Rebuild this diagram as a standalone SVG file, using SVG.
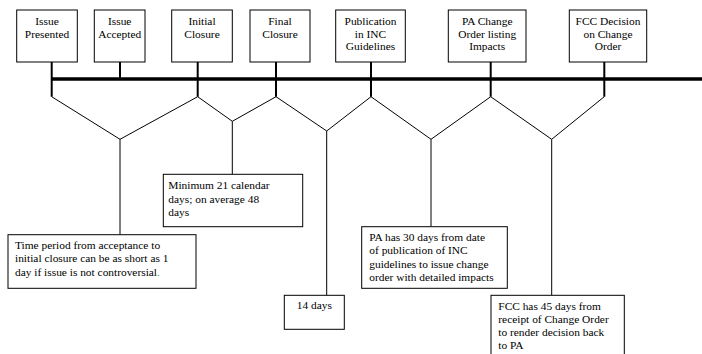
<svg xmlns="http://www.w3.org/2000/svg" width="702" height="354" viewBox="0 0 702 354" font-family="'Liberation Serif', 'Times New Roman', serif">
<style>
.box{fill:#fff;stroke:#000;stroke-width:1}
text{font-family:'Liberation Serif','Times New Roman',serif;font-size:11.4px;fill:#000}
.c{text-anchor:middle}
.bar{stroke:#000;stroke-width:3.3;fill:none}
.stem{stroke:#000;stroke-width:2;fill:none}
.thin{stroke:#000;stroke-width:1;fill:none}
</style>
<rect width="702" height="354" fill="#fff"/>
<g id="connectors">
<line class="bar" x1="51.7" y1="79" x2="702" y2="79"/>
<line class="stem" x1="51.7" y1="62" x2="51.7" y2="96.7"/>
<line class="stem" x1="120" y1="62" x2="120" y2="79"/>
<line class="stem" x1="197.7" y1="62" x2="197.7" y2="96.7"/>
<line class="stem" x1="276" y1="62" x2="276" y2="96.7"/>
<line class="stem" x1="371" y1="62" x2="371" y2="96.7"/>
<line class="stem" x1="490.7" y1="62" x2="490.7" y2="96.7"/>
<line class="stem" x1="604.3" y1="62" x2="604.3" y2="96.7"/>
<polyline class="thin" points="51.7,96.7 120,139.3 197.7,96.7"/>
<polyline class="thin" points="197.7,96.7 232.3,121.3 276,96.7"/>
<polyline class="thin" points="276,96.7 326.7,131 371,96.7"/>
<polyline class="thin" points="371,96.7 431,139.3 490.7,96.7"/>
<polyline class="thin" points="490.7,96.7 551.7,139.3 604.3,96.7"/>
<line class="thin" x1="120" y1="139.3" x2="120" y2="234.7"/>
<line class="thin" x1="232.3" y1="121.3" x2="232.3" y2="174.3"/>
<line class="thin" x1="326.7" y1="131" x2="326.7" y2="295.3"/>
<line class="thin" x1="431" y1="139.3" x2="431" y2="226.7"/>
<line class="thin" x1="551.7" y1="139.3" x2="551.7" y2="295.3"/>
</g>
<g id="n1"><rect class="box" x="16.7" y="10" width="60.6" height="52"/>
<text class="c" x="47" y="25">Issue</text><text class="c" x="47" y="37.8">Presented</text></g>
<g id="n2"><rect class="box" x="94.3" y="10" width="50.7" height="52"/>
<text class="c" x="119.7" y="25">Issue</text><text class="c" x="119.7" y="37.8">Accepted</text></g>
<g id="n3"><rect class="box" x="171.7" y="10" width="60.6" height="52"/>
<text class="c" x="202" y="25">Initial</text><text class="c" x="202" y="37.8">Closure</text></g>
<g id="n4"><rect class="box" x="250" y="10" width="60" height="52"/>
<text class="c" x="280" y="25">Final</text><text class="c" x="280" y="37.8">Closure</text></g>
<g id="n5"><rect class="box" x="335.7" y="10" width="69.6" height="52"/>
<text class="c" x="370.5" y="25">Publication</text><text class="c" x="370.5" y="37.7">in INC</text><text class="c" x="370.5" y="50.4">Guidelines</text></g>
<g id="n6"><rect class="box" x="448.3" y="10" width="77.7" height="52"/>
<text class="c" x="487.2" y="25">PA Change</text><text class="c" x="487.2" y="37.7">Order listing</text><text class="c" x="487.2" y="50.4">Impacts</text></g>
<g id="n7"><rect class="box" x="569.3" y="10" width="77.4" height="52"/>
<text class="c" x="608" y="25">FCC Decision</text><text class="c" x="608" y="37.7">on Change</text><text class="c" x="608" y="50.4">Order</text></g>
<g id="n8"><rect class="box" x="8" y="234.7" width="188" height="53.6"/>
<text x="15" y="248.7">Time period from acceptance to</text>
<text x="15" y="262">initial closure can be as short as 1</text>
<text x="15" y="275.6">day if issue is not controversial<tspan fill="#2a9d2a">.</tspan></text></g>
<g id="n9"><rect class="box" x="163.3" y="174.3" width="139.4" height="52.4"/>
<text x="168.3" y="189.2">Minimum 21 calendar</text>
<text x="168.3" y="202.5">days; on average 48</text>
<text x="168.3" y="215.8">days</text></g>
<g id="n10"><rect class="box" x="284.3" y="295.3" width="60" height="34"/>
<text class="c" x="314.3" y="309.2">14 days</text></g>
<g id="n11"><rect class="box" x="361.7" y="226.7" width="145.6" height="61.6"/>
<text x="369.3" y="240.8">PA has 30 days from date</text>
<text x="369.3" y="254.2">of publication of INC</text>
<text x="369.3" y="267.6">guidelines to issue change</text>
<text x="369.3" y="280.9">order with detailed impacts</text></g>
<g id="n12"><rect class="box" x="491" y="295.3" width="133.3" height="70"/>
<text x="498.3" y="309.5">FCC has 45 days from</text>
<text x="498.3" y="322.8">receipt of Change Order</text>
<text x="498.3" y="336.2">to render decision back</text>
<text x="498.3" y="349.3">to PA</text></g>
</svg>
